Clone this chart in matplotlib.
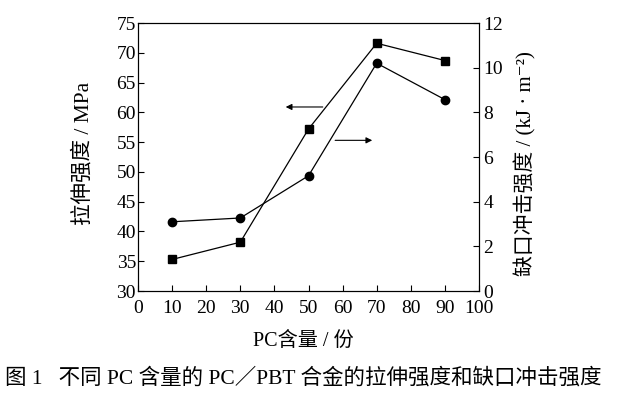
import matplotlib
matplotlib.use('Agg')
import matplotlib.pyplot as plt

plt.rcParams['font.family'] = ['Liberation Serif', 'Noto Sans CJK SC', 'DejaVu Sans']

# data
pc_content = [10, 30, 50, 70, 90]
tensile = [35.3, 38.2, 57.2, 71.6, 68.7]      # MPa, left axis
impact = [3.1, 3.27, 5.16, 10.2, 8.57]        # kJ/m2, right axis

x_ticks = list(range(0, 101, 10))
left_ticks = list(range(30, 76, 5))
right_ticks = list(range(0, 13, 2))

fig = plt.figure(figsize=(6.17, 3.98), dpi=100)
ax = fig.add_axes([0.2237, 0.2688, 0.5526, 0.6734])
ax2 = ax.twinx()

ax.plot(pc_content, tensile, color='k', lw=0.9, marker='s', ms=5.5)
ax2.plot(pc_content, impact, color='k', lw=0.9, marker='o', ms=6)

ax.set_xlim(0, 100)
ax.set_ylim(30, 75)
ax2.set_ylim(0, 12)
ax.set_xticks(x_ticks)
ax.set_yticks(left_ticks)
ax2.set_yticks(right_ticks)

for a in (ax, ax2):
    a.tick_params(direction='in', length=4, width=0.8, labelsize=14, pad=1.5)
    for s in a.spines.values():
        s.set_linewidth(0.8)
ax.tick_params(axis='x', pad=6.5)
ax2.tick_params(axis='y', pad=3)

# arrows pointing to the axes
ax.annotate('', xy=(42.5, 60.9), xytext=(55, 60.9),
            arrowprops=dict(arrowstyle='-|>', lw=0.8, color='k', mutation_scale=9))
ax.annotate('', xy=(69.5, 55.3), xytext=(57, 55.3),
            arrowprops=dict(arrowstyle='-|>', lw=0.8, color='k', mutation_scale=9))

fig.text(0.136, 0.615, '拉伸强度 / MPa', rotation=90, ha='center', va='center', fontsize=15.5)
fig.text(0.851, 0.588, '缺口冲击强度 / (kJ · m⁻²)', rotation=90, ha='center', va='center', fontsize=15)
fig.text(0.492, 0.143, 'PC含量 / 份', ha='center', va='center', fontsize=14.5)
fig.text(0.008, 0.050, '图 1   不同 PC 含量的 PC／PBT 合金的拉伸强度和缺口冲击强度',
         ha='left', va='center', fontsize=15.5)

fig.savefig('out.png', dpi=100)
